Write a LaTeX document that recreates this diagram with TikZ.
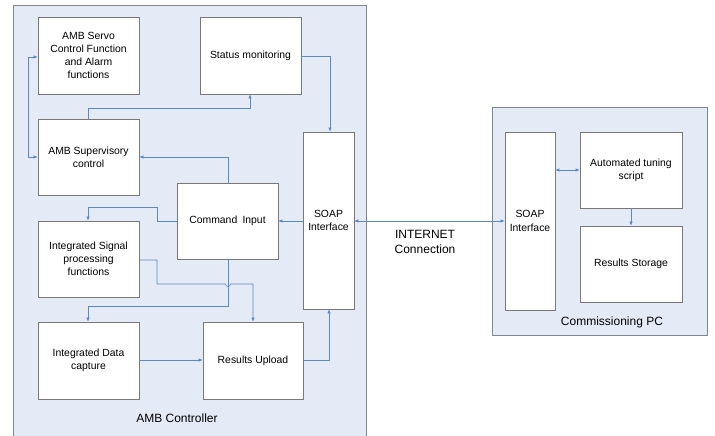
\documentclass[tikz,border=0pt]{standalone}
\usepackage{fontspec}
\setmainfont{Liberation Sans}
\usetikzlibrary{arrows.meta}
\definecolor{panelfill}{RGB}{229,235,246}
\definecolor{panelline}{RGB}{128,134,146}
\definecolor{boxline}{RGB}{120,120,120}
\definecolor{wire}{RGB}{92,136,196}
\tikzset{
  panel/.style={draw=panelline, fill=panelfill, line width=0.8pt},
  block/.style={draw=boxline, fill=white, line width=0.7pt, inner sep=0pt,
    align=center, font=\fontsize{10.4}{13.2}\selectfont},
  lbl/.style={font=\fontsize{12}{15}\selectfont, align=center, inner sep=0pt},
  link/.style={draw=wire, line width=0.6pt, -{Latex[length=4pt,width=3.5pt]}},
  link2/.style={draw=wire, line width=0.6pt, {Latex[length=4pt,width=3.5pt]}-{Latex[length=4pt,width=3.5pt]}},
}
% block given by its corners (x1,y1) and (x2,y2), in pixels with y downwards
\newcommand{\blk}[6]{\node[block, minimum width={(#4-#2)*1pt}, minimum height={(#5-#3)*1pt}]
  (#1) at ({(#2+#4)/2},{(#3+#5)/2}) {#6};}
\begin{document}
\begin{tikzpicture}[x=1pt, y=-1pt]
\useasboundingbox (0,0) rectangle (715,436);
\begin{scope}
\clip (0,0) rectangle (715,436);
% outer panels
\draw[panel] (13,5) rectangle (366,445);
\draw[panel] (492,107) rectangle (707,335);
\end{scope}
\node[lbl] (ctrl) at (177,418) {AMB Controller};
\node[lbl] (pc) at (612,322) {Commissioning PC};
\node[lbl] (net) at (425,242) {INTERNET\\Connection};

% controller blocks
\blk{servo}{38}{17}{139}{94}{AMB Servo\\Control Function\\and Alarm\\functions}
\blk{status}{200}{17}{301}{94}{Status monitoring}
\blk{superv}{38}{119}{139}{195}{AMB Supervisory\\control}
\blk{soapL}{303}{132}{354}{309}{SOAP\\Interface}
\blk{cmd}{177}{183}{278}{259}{Command\enspace Input}
\blk{sig}{38}{221}{139}{297}{Integrated Signal\\processing\\functions}
\blk{cap}{38}{322}{139}{399}{Integrated Data\\capture}
\blk{upload}{203}{322}{303}{399}{Results Upload}

% commissioning PC blocks
\blk{soapR}{505}{132}{555}{310}{SOAP\\Interface}
\blk{tune}{580}{132}{682}{208}{Automated tuning\\script}
\blk{store}{580}{226}{682}{302}{Results Storage}

% connectors
\draw[link2] (soapL.east |- 0,221) -- (soapR.west |- 0,221);
\draw[link] (soapL.west |- 0,221) -- (cmd.east |- 0,221);
\draw[link] (status.east |- 0,56) -- (330,56) -- (soapL.north -| 330,0);
\draw[link] (superv.north -| 88,0) -- (88,108) -- (250,108) -- (status.south -| 250,0);
\draw[link] (cmd.north -| 228,0) -- (228,157) -- (superv.east |- 0,157);
\draw[link2] (servo.west |- 0,57) -- (28,57) -- (28,157) -- (superv.west |- 0,157);
\draw[link] (cmd.west |- 0,221) -- (157,221) -- (157,207) -- (88,207) -- (sig.north -| 88,0);
\draw[link] (sig.east |- 0,260) -- (157,260) -- (157,284) -- (225.5,284)
  arc[start angle=180, end angle=0, radius=2.5] -- (253,284) -- (upload.north -| 253,0);
\draw[link] (cmd.south -| 228,0) -- (228,306) -- (88,306) -- (cap.north -| 88,0);
\draw[link] (cap.east |- 0,360) -- (upload.west |- 0,360);
\draw[link] (upload.east |- 0,360) -- (329,360) -- (soapL.south -| 329,0);
\draw[link2] (soapR.east |- 0,170) -- (tune.west |- 0,170);
\draw[link] (tune.south -| 631,0) -- (store.north -| 631,0);
\end{tikzpicture}
\end{document}
